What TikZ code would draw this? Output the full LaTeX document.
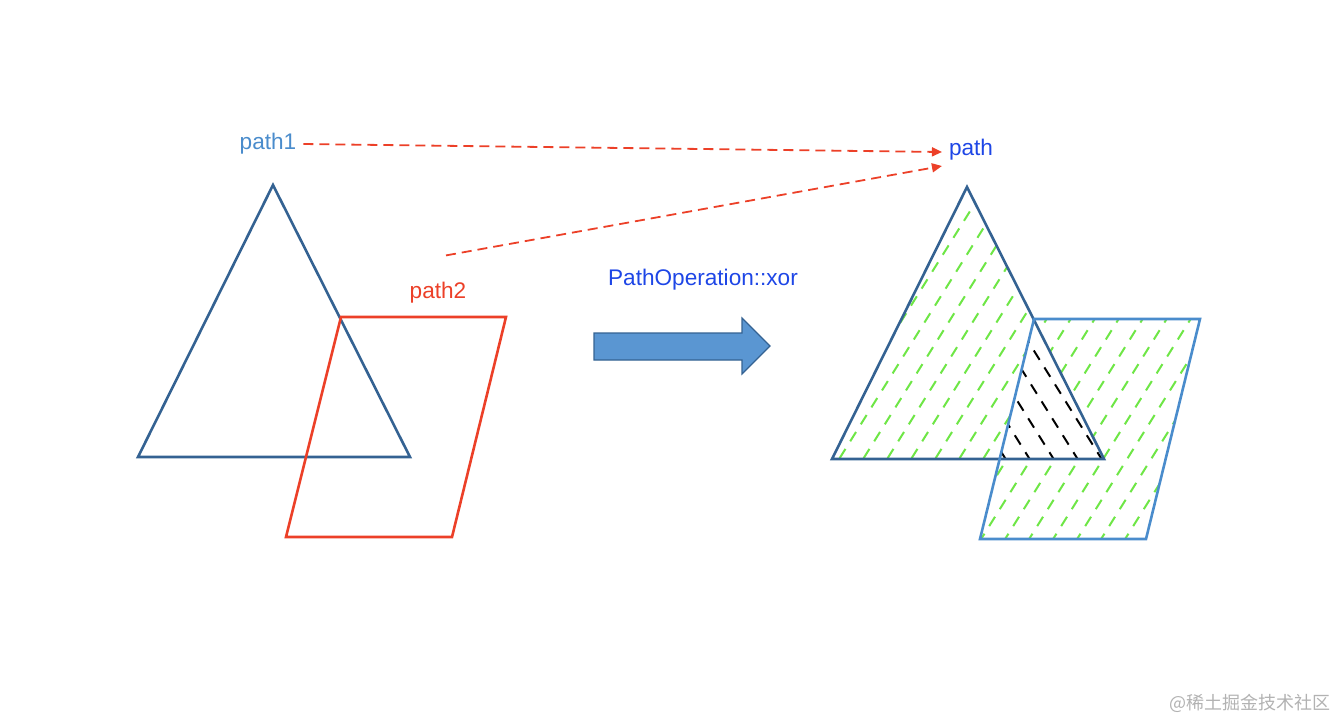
\documentclass[tikz,border=0pt]{standalone}
\usepackage{fontspec}
\setmainfont{Liberation Sans}
\newfontfamily\cjk{Noto Sans CJK SC}
\usetikzlibrary{arrows.meta}
\definecolor{triblue}{RGB}{52,98,146}
\definecolor{parared}{RGB}{236,64,40}
\definecolor{parablue}{RGB}{74,140,204}
\definecolor{arrblue}{RGB}{90,150,210}
\definecolor{lblblue}{RGB}{30,70,230}
\definecolor{hatchgreen}{RGB}{110,230,70}

\begin{document}
\begin{tikzpicture}[
    x=0.5pt, y=-0.5pt,
    outline/.style={line width=1.3pt},
    lbl/.style={font=\fontsize{11.3}{13}\selectfont},
    link/.style={-{Triangle[length=5pt,width=4.5pt]}, dash pattern=on 5pt off 3pt, parared, line width=0.9pt},
    hatch/.style={dash pattern=on 5.5pt off 4.5pt, line width=1pt}
]
\useasboundingbox (0,0) rectangle (1340,720);

% left: the two paths
\draw[outline, triblue] (273,185) -- (410,457) -- (138,457) -- cycle;
\draw[outline, parared] (341,317) -- (506,317) -- (452,537) -- (286,537) -- cycle;

% labels
\node[lbl, text=parablue] (p1) at (268,144) {path1};
\node[lbl, text=parared] (p2) at (438,293) {path2};
\node[lbl, text=lblblue] (res) at (971,150) {path};
\node[lbl, text=lblblue] (op) at (703,280) {PathOperation::xor};

% dashed links
\draw[link] (p1.east) -- ([yshift=-1pt]res.west);
\draw[link] ([xshift=4pt,yshift=10pt]p2.north) -- ([yshift=-8pt]res.west);

% block arrow
\draw[triblue, fill=arrblue, line width=0.6pt] (594,333) -- (742,333) -- (742,318)
  -- (770,346) -- (742,374) -- (742,360) -- (594,360) -- cycle;

% right: xor result, hatching
\begin{scope}[even odd rule]
  \clip (967,187) -- (1104,459) -- (832,459) -- cycle
        (1034,319) -- (1200,319) -- (1146,539) -- (980,539) -- cycle;
  \foreach \x in {560,584,...,1400}
    \draw[hatch, hatchgreen] (\x,560) -- ++(250,-400);
\end{scope}
\begin{scope}
  \clip (967,187) -- (1104,459) -- (832,459) -- cycle;
  \clip (1034,319) -- (1200,319) -- (1146,539) -- (980,539) -- cycle;
  \foreach \x in {800,824,...,1100}
    \draw[hatch, black] (\x,130) -- ++(250,400);
\end{scope}
\draw[outline, triblue] (967,187) -- (1104,459) -- (832,459) -- cycle;
\draw[outline, parablue] (1034,319) -- (1200,319) -- (1146,539) -- (980,539) -- cycle;

% watermark
\node[text=gray!60, font=\cjk\fontsize{9}{10}\selectfont] (wm) at (1250,703) {@稀土掘金技术社区};
\end{tikzpicture}
\end{document}
